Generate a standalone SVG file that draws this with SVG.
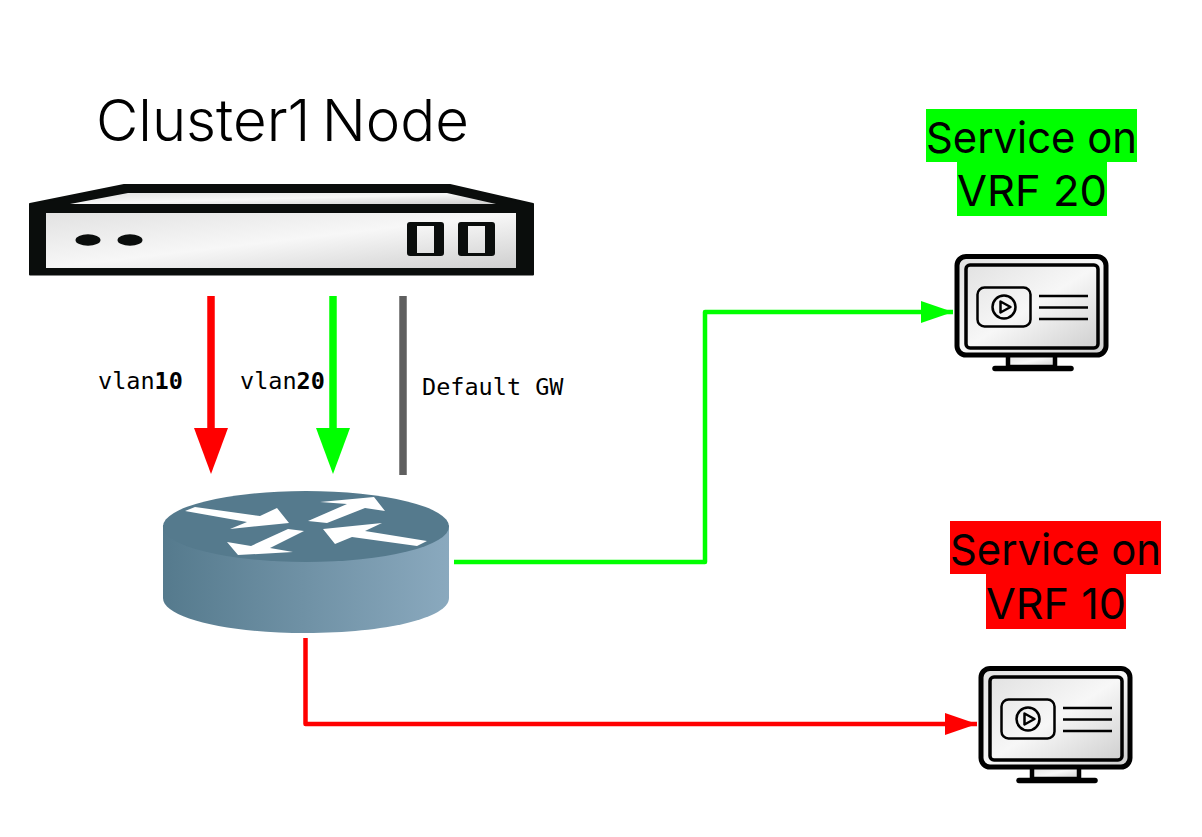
<svg xmlns="http://www.w3.org/2000/svg" width="1202" height="837" viewBox="0 0 1202 837">
<style>
.title{font-family:"Inter","Liberation Sans",sans-serif;font-size:58px;font-weight:300;fill:#000;word-spacing:-5px}
.svc{font-family:"Inter","Liberation Sans",sans-serif;font-size:43px;fill:#000}
.mono{font-family:"DejaVu Sans Mono","Liberation Mono",monospace;font-size:23.5px;fill:#000}
.c{fill:none;stroke-linejoin:round}
</style>
<defs>
<linearGradient id="sg" x1="0" y1="0" x2="1" y2="1"><stop offset="0" stop-color="#e2e2e2"/><stop offset=".5" stop-color="#f7f7f7"/><stop offset="1" stop-color="#cfcfcf"/></linearGradient>
<linearGradient id="rg" x1="0" y1="0" x2="1" y2="0"><stop offset="0" stop-color="#557a8d"/><stop offset="1" stop-color="#8aa9be"/></linearGradient>
<marker id="gh" markerUnits="userSpaceOnUse" markerWidth="34" markerHeight="24" refX="32" refY="12" orient="auto"><path d="M0 1 L32 12 L0 23Z" fill="#0f0"/></marker>
<marker id="rh" markerUnits="userSpaceOnUse" markerWidth="34" markerHeight="24" refX="32" refY="12" orient="auto"><path d="M0 1 L32 12 L0 23Z" fill="#f00"/></marker>
<g id="screen">
<path d="M52 99V111H99V99" fill="url(#sg)" stroke="#000" stroke-width="4.500"/>
<path d="M39 112.500H115" stroke="#000" stroke-width="5.500" stroke-linecap="round"/>
<rect x="1" y="0.500" width="149" height="98.500" rx="9" fill="url(#sg)" stroke="#000" stroke-width="5"/>
<rect x="10" y="9" width="132" height="83" rx="4" fill="url(#sg)" stroke="#000" stroke-width="3.500"/>
<rect x="21.500" y="31.500" width="53" height="39" rx="7" fill="none" stroke="#000" stroke-width="2.500"/>
<circle cx="48" cy="51" r="11.500" fill="none" stroke="#000" stroke-width="2.500"/>
<path d="M44.500 45.500 L54.500 51 L44.500 56.500Z" fill="none" stroke="#000" stroke-width="2.500" stroke-linejoin="round"/>
<path d="M83 40H132M83 51.500H132M83 63H132" stroke="#000" stroke-width="2.500" fill="none"/>
</g>
</defs>
<g id="title"><text class="title" x="96" y="140.500" textLength="373" lengthAdjust="spacingAndGlyphs">Cluster1 Node</text></g>
<g id="server">
<path d="M30 204 L124 185 H450 L533 204 V274.500 H30Z" fill="#0a0d0c" stroke="#0a0d0c" stroke-width="2" stroke-linejoin="round"/>
<path d="M70 204 L128 193 H447 L496 204Z" fill="url(#sg)"/>
<rect x="46" y="213" width="470" height="55" fill="url(#sg)"/>
<ellipse cx="88" cy="240" rx="12.500" ry="5.800" fill="#0a0d0c"/><ellipse cx="130" cy="240" rx="12.500" ry="5.800" fill="#0a0d0c"/>
<path fill-rule="evenodd" d="M410 222H441Q444 222 444 225V253Q444 256 441 256H410Q407 256 407 253V225Q407 222 410 222ZM417 226V253H434V226Z" fill="#0a0d0c"/>
<path fill-rule="evenodd" d="M461 222H492Q495 222 495 225V253Q495 256 492 256H461Q458 256 458 253V225Q458 222 461 222ZM468 226V253H485V226Z" fill="#0a0d0c"/>
</g>
<g id="router">
<path d="M163 525 V598 C163 618 227 633 306 633 C385 633 449 618 449 598 V525Z" fill="url(#rg)"/>
<ellipse cx="306" cy="526.500" rx="143" ry="35.500" fill="#557a8d"/>
<g fill="#fff">
<path d="M185 511 L195 507 L260 516 L277 508 L289 523 L230 529 L247 522Z"/>
<path d="M308 521 L347 504 L320 502 L374 497 L385 511 L365 508 L327 523Z"/>
<path d="M304 531 L288 529 L251 546 L227 542 L238 555 L293 552 L270 548Z"/>
<path d="M323 529 L382 523 L365 531 L427 541 L417 546 L352 537 L335 544Z"/>
</g>
</g>
<g id="monitor-20"><use href="#screen" x="956" y="256"/></g>
<g id="monitor-10"><use href="#screen" x="980" y="668"/></g>
<g id="label-20"><rect x="926" y="109" width="211" height="53" fill="#0f0"/><rect x="957" y="162" width="150" height="54" fill="#0f0"/><text class="svc" x="926" y="153" textLength="211" lengthAdjust="spacingAndGlyphs">Service on</text><text class="svc" x="957" y="206" textLength="150" lengthAdjust="spacingAndGlyphs">VRF 20</text></g>
<g id="label-10"><rect x="950" y="521" width="211" height="53" fill="#f00"/><rect x="986" y="574" width="140" height="55" fill="#f00"/><text class="svc" x="950" y="565" textLength="211" lengthAdjust="spacingAndGlyphs">Service on</text><text class="svc" x="986" y="619" textLength="140" lengthAdjust="spacingAndGlyphs">VRF 10</text></g>
<g id="connectors">
<path class="c" d="M211 296V430" stroke="#f00" stroke-width="7.500"/><path d="M194 428H228L211 474Z" fill="#f00"/>
<path class="c" d="M333 296V430" stroke="#0f0" stroke-width="7.500"/><path d="M316 428H350L333 474Z" fill="#0f0"/>
<path class="c" d="M403 296V475" stroke="#5f5f5f" stroke-width="7.500"/>
<path class="c" d="M454 562H705V312H953" stroke="#0f0" stroke-width="4.500" marker-end="url(#gh)"/>
<path class="c" d="M305.500 638V724H977" stroke="#f00" stroke-width="4.500" marker-end="url(#rh)"/>
</g>
<g id="labels">
<text class="mono" x="98" y="389">vlan<tspan font-weight="bold">10</tspan></text>
<text class="mono" x="240" y="389">vlan<tspan font-weight="bold">20</tspan></text>
<text class="mono" x="422" y="395">Default GW</text>
</g>
</svg>
